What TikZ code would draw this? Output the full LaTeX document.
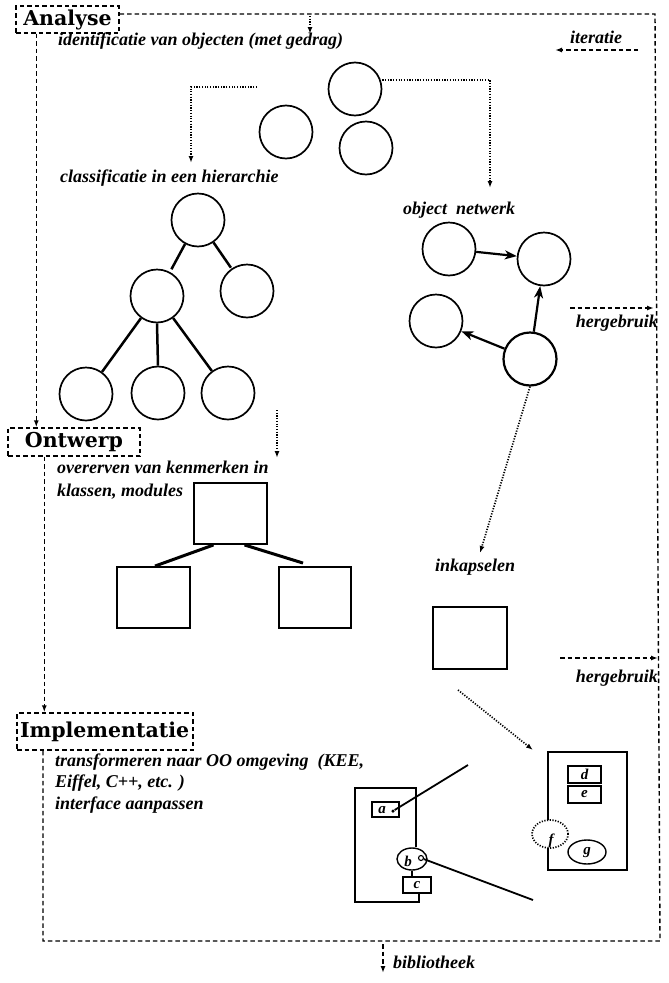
\documentclass[tikz,border=0pt]{standalone}
\usepackage{fontspec}
\setmainfont{Liberation Serif}
\newfontfamily\headfont{DejaVu Serif}
\usetikzlibrary{arrows.meta,shapes.geometric,calc}
\begin{document}
\begin{tikzpicture}[x=1pt,y=-1pt,
  phase/.style={draw,line width=1.4pt,dash pattern=on 4.5pt off 3pt,
    font=\headfont\bfseries\fontsize{20.5}{20.5}\selectfont,inner sep=3pt},
  lbl/.style={font=\bfseries\itshape\fontsize{18}{18}\selectfont,inner sep=0pt,anchor=west},
  ilbl/.style={font=\bfseries\itshape\fontsize{15}{15}\selectfont,inner sep=0pt},
  dsh/.style={line width=1.4pt,dash pattern=on 4.5pt off 3pt},
  dots/.style={line width=1.7pt,dash pattern=on 1.2pt off 1.5pt},
  arr/.style={-{Latex[length=7pt,width=5pt]}},
  obj/.style={circle,draw,line width=1.7pt,minimum size=53pt,inner sep=0pt},
  tree/.style={line width=2.5pt},
  sq/.style={draw,line width=1.9pt,inner sep=0pt},
  small/.style={draw,line width=1.4pt,inner sep=0pt},
  netarr/.style={line width=2.2pt,-{Stealth[length=12pt,width=9pt,inset=3.5pt]}}
]
\useasboundingbox (0,0) rectangle (669,983);

% phases
\node[phase,minimum width=103pt,minimum height=27pt] (an) at (67.5,19.5) {Analyse};
\node[phase,minimum width=132pt,minimum height=28pt] (on) at (74,442) {Ontwerp};
\node[phase,minimum width=176pt,minimum height=37pt,text width=170pt,align=left,inner xsep=1pt] (im) at (105,731.5) {Implementatie};

% big iteration loop
\coordinate (c1) at (655,14);
\coordinate (c2) at (660,941);
\coordinate (c3) at (43,941);
\draw[dsh] (an.east |- c1) -- (c1) -- (c2) -- (c3) -- (c3 |- im.south);
\draw[dsh,arr] ([xshift=21pt]an.south west) -- ([xshift=21pt]an.south west |- on.north);
\draw[dsh,arr] ([xshift=37pt]on.south west) -- ([xshift=37pt]on.south west |- im.north);

% iteratie
\coordinate (it1) at (638,50);
\coordinate (it2) at (555,50);
\draw[dsh,arr] (it1) -- (it2);
\node[lbl] (lit) at (570,37) {iteratie};

% hergebruik
\coordinate (h1a) at (570,308);
\coordinate (h1b) at (654,308);
\draw[dsh,arr] (h1a) -- (h1b);
\node[lbl,anchor=east] (lh1) at (658,323) {hergebruik};
\coordinate (h2a) at (560,658);
\coordinate (h2b) at (658,658);
\draw[dsh,arr] (h2a) -- (h2b);
\node[lbl,anchor=east] (lh2) at (658,678) {hergebruik};

% bibliotheek
\coordinate (bb1) at (383,944);
\coordinate (bb2) at (383,973);
\draw[dsh,arr] (bb1) -- (bb2);
\node[lbl] (lbib) at (393,962) {bibliotheek};

% identification
\coordinate (id0) at (310,16);
\coordinate (id1) at (310,34);
\draw[dots,arr] (id0) -- (id1);
\node[lbl] (lid) at (58,41) {identificatie van objecten (met gedrag)};
\node[obj] (t1) at (355,89) {};
\node[obj] (t2) at (286,132) {};
\node[obj] (t3) at (366,148) {};

% to classification
\coordinate (cl0) at (257,87);
\coordinate (cl1) at (191,163);
\draw[dots,arr] (cl0) -| (cl1);
% to object network
\coordinate (nw1) at (490,188);
\draw[dots,arr] ([yshift=9pt]t1.east) -| (nw1);

% classification tree
\node[lbl] (lcl) at (60,178) {classificatie in een hierarchie};
\node[obj] (h0) at (198,220) {};
\node[obj] (h1) at (157,296) {};
\node[obj] (h2) at (247,291) {};
\node[obj] (h3) at (86,394) {};
\node[obj] (h4) at (158,393) {};
\node[obj] (h5) at (228,393) {};
\draw[tree,shorten >=3pt] (h0) -- (h1);
\draw[tree,shorten >=1pt] (h0) -- (h2);
\draw[tree] (h1) -- (h3);
\draw[tree] (h1.south) -- (h4.north);
\draw[tree] (h1) -- (h5);

% object network
\node[lbl] (lon) at (403,210) {object\ \ netwerk};
\node[obj] (nA) at (449,249) {};
\node[obj] (nB) at (544,259) {};
\node[obj] (nC) at (436,321) {};
\node[obj,line width=2.2pt] (nD) at (530,359) {};
\draw[netarr] (nA) -- (nB);
\draw[netarr] (nD) -- (nB);
\draw[netarr] (nD) -- (nC);

% to inheritance
\coordinate (ih0) at (277,410);
\coordinate (ih1) at (277,458);
\draw[dots,arr] (ih0) -- (ih1);
\node[lbl] (lov1) at (57,467) {overerven van kenmerken in};
\node[lbl] (lov2) at (57,492) {klassen, modules};
\node[sq,minimum width=73pt,minimum height=61pt] (sq0) at (230.5,513.5) {};
\node[sq,minimum width=73pt,minimum height=61pt] (sq1) at (153.5,597.5) {};
\node[sq,minimum width=72pt,minimum height=61pt] (sq2) at (315,597.5) {};
\draw[line width=3pt] ([xshift=-17pt]sq0.south) -- ([xshift=1.5pt]sq1.north);
\draw[line width=3pt] ([xshift=14pt]sq0.south) -- ([xshift=-12pt,yshift=3pt]sq2.north);

% encapsulation
\coordinate (ik1) at (480,553);
\draw[dots,arr] (nD.south) -- (ik1);
\node[lbl] (lin) at (435,567) {inkapselen};
\node[sq,line width=2.5pt,minimum width=74pt,minimum height=62pt] (sq3) at (470,638) {};
\coordinate (rb0) at (458,690);
\coordinate (rb1) at (533,750);
\draw[dots,arr] (rb0) -- (rb1);

% implementation texts
\node[lbl] (ltr) at (55,762) {transformeren naar OO omgeving\ \ (KEE,};
\node[lbl] (lei) at (55,783) {Eiffel, C++, etc. )};
\node[lbl] (lif) at (55,805) {interface aanpassen};

% left module
\node[small,minimum width=27pt,minimum height=15pt] (ma) at (385.5,809.5) {};
\node[ilbl] at (382,810) {a};
\node[small,ellipse,minimum width=30pt,minimum height=22pt] (mb) at (412,859) {};
\node[ilbl] at (408,861) {b};
\node[small,minimum width=28pt,minimum height=16pt] (mc) at (417,885) {};
\node[ilbl] at (417,885) {c};
\draw[line width=1.4pt] (mb.north -| 416,0) -- (416,788) -- (355,788) -- (355,902) -- (419,902) -- (mc.south -| 419,0);
\draw[line width=1.4pt] (mb.south -| 412,0) -- (mc.north -| 412,0);
\node[circle,draw,line width=1.1pt,minimum size=5pt,inner sep=0pt,fill=white] (pb) at (421,858) {};
\node[circle,fill,minimum size=3.5pt,inner sep=0pt] (pa) at (393,811) {};
\coordinate (la) at (468,765);
\coordinate (lb) at (533,900);
\draw[line width=1.8pt] (pa) -- (la);
\draw[line width=1.8pt] (pb) -- (lb);

% right module
\draw[line width=2.5pt] (548,820) -- (548,752) -- (627,752) -- (627,870) -- (548,870) -- (548,848);
\node[small,minimum width=33pt,minimum height=17pt] (md) at (584.5,774.5) {};
\node[ilbl] at (584.5,774.5) {d};
\node[small,minimum width=33pt,minimum height=17pt] (me) at (584.5,794.5) {};
\node[ilbl] at (584.5,794.5) {e};
\node[ellipse,dots,draw,minimum width=36pt,minimum height=28pt,inner sep=0pt] (mf) at (550,834) {};
\node[ilbl] at (551,841) {f};
\node[small,ellipse,minimum width=38pt,minimum height=24pt] (mg) at (587,852) {};
\node[ilbl] at (587,853) {g};
\end{tikzpicture}
\end{document}
